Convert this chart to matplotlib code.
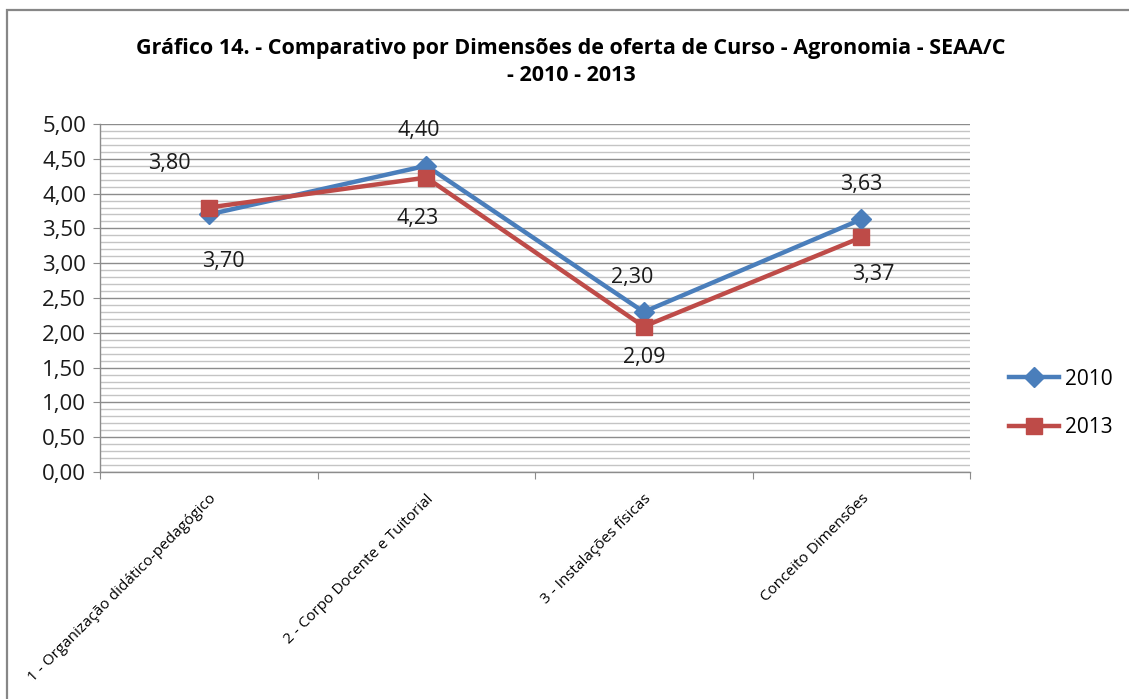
import matplotlib
matplotlib.use("Agg")
import matplotlib.pyplot as plt
import numpy as np
from matplotlib.patches import Rectangle

# Dados do gráfico
categorias = ["1 - Organização didático-pedagógico", "2 - Corpo Docente e Tuitorial",
              "3 - Instalações físicas", "Conceito Dimensões"]
valores_2010 = [3.70, 4.40, 2.30, 3.63]
valores_2013 = [3.80, 4.23, 2.09, 3.37]

# Deslocamento dos rótulos (pixels)
offs_2010 = [(15, -47), (-7, 35), (-12, 34), (0, 35)]
offs_2013 = [(-39, 44), (-9, -41), (0, -31), (12, -37)]

plt.rcParams['font.family'] = ['Open Sans', 'DejaVu Sans']

fig = plt.figure(figsize=(11.29, 6.99), dpi=100)
W, H = 1129, 699

# Moldura do gráfico
fig.patches.append(Rectangle((7 / W, -0.05), 1.2, 1 - 10 / H + 0.05, transform=fig.transFigure,
                             fill=False, edgecolor="#878787", linewidth=1.6))

ax = fig.add_axes([100 / W, 1 - 472 / H, 870 / W, 348 / H])
x = np.arange(len(categorias))

# Linhas de grade
for v in np.arange(0, 5.01, 0.1):
    major = abs(v * 2 - round(v * 2)) < 1e-6
    ax.axhline(v, color="#8c8c8c" if major else "#c4c4c4", lw=1.0, zorder=0)

c2010 = "#4a7ebb"
c2013 = "#be4b48"
ax.plot(x, valores_2010, color=c2010, lw=3.2, marker="D", markersize=10, label="2010", zorder=3)
ax.plot(x, valores_2013, color=c2013, lw=3.2, marker="s", markersize=12, label="2013", zorder=4)

for xi, v, (dx, dy) in zip(x, valores_2010, offs_2010):
    ax.annotate(f"{v:.2f}".replace(".", ","), (xi, v), xytext=(dx * 0.72, dy * 0.72),
                textcoords="offset points", ha="center", va="center", fontsize=15.5, color="#1a1a1a")
for xi, v, (dx, dy) in zip(x, valores_2013, offs_2013):
    ax.annotate(f"{v:.2f}".replace(".", ","), (xi, v), xytext=(dx * 0.72, dy * 0.72),
                textcoords="offset points", ha="center", va="center", fontsize=15.5, color="#1a1a1a")

ax.set_xlim(-0.5, 3.5)
ax.set_ylim(0, 5)
ax.set_yticks(np.arange(0, 5.01, 0.5))
ax.set_yticklabels([f"{v:.2f}".replace(".", ",") for v in np.arange(0, 5.01, 0.5)], fontsize=16)
ax.set_xticks(np.arange(-0.5, 3.6, 1))
ax.set_xticklabels([])
ax.set_xticks(x, minor=True)
ax.set_xticklabels(categorias, minor=True, rotation=45, ha="right", va="top",
                   rotation_mode="anchor", fontsize=11)
ax.tick_params(axis="x", which="minor", length=0, pad=14)
ax.tick_params(axis="x", which="major", length=5, color="#8c8c8c", direction="out")
ax.tick_params(axis="y", length=5, color="#8c8c8c", direction="out", pad=5, labelcolor="#1a1a1a")

for s in ["top", "right"]:
    ax.spines[s].set_visible(False)
for s in ["left", "bottom"]:
    ax.spines[s].set_color("#8c8c8c")
    ax.spines[s].set_linewidth(1.0)

fig.text(571 / W, 1 - 62 / H, "Gráfico 14. - Comparativo por Dimensões de oferta de Curso - Agronomia - SEAA/C\n- 2010 - 2013",
         ha="center", va="center", fontsize=15.5, fontweight="bold", linespacing=1.4)

fig.legend(loc="upper left", bbox_to_anchor=(990 / W, 1 - 350 / H), frameon=False,
           fontsize=15, handlelength=2.4, labelspacing=1.3, handletextpad=0.3)

fig.savefig("out.png", dpi=100)
